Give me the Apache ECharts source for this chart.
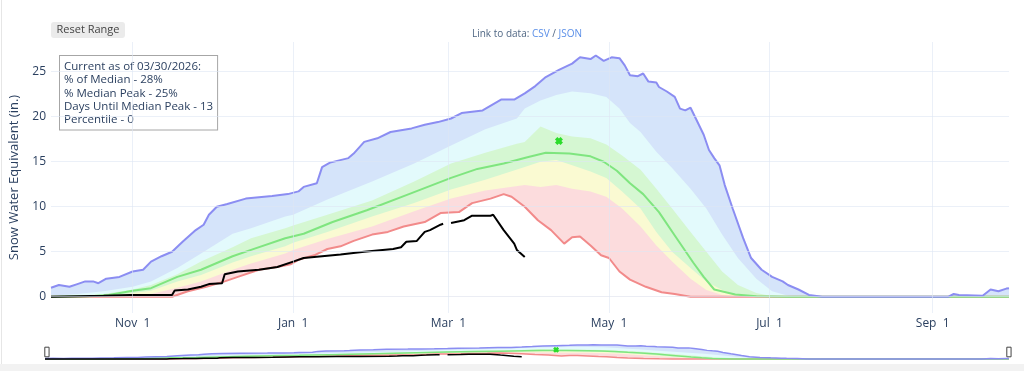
<!DOCTYPE html>
<html><head><meta charset="utf-8">
<script src="https://cdn.jsdelivr.net/npm/echarts@6/dist/echarts.min.js"></script>
<style>
html,body{margin:0;padding:0;background:#f2f2f2;}
#chart{position:absolute;left:0;top:0;width:1024px;height:364px;background:#fff;}
#edge{position:absolute;left:1px;top:0;width:1px;height:364px;background:#e6e6e6;pointer-events:none;}
</style></head><body>
<div id="chart"></div><div id="edge"></div>
<script>
// x = days since Oct 1 (water year 2026)
const tickDays = [31, 92, 151, 212, 273, 335];
const tickLabels = ['Nov  1', 'Jan  1', 'Mar  1', 'May  1', 'Jul  1', 'Sep  1'];

const maxSWE = [[0,1.0],[3,1.3],[7,1.1],[10,1.4],[13,1.7],[16,1.7],[18,1.5],[21,2.0],[26,2.2],[31,2.8],[35,3.0],[38,3.9],[42,4.5],[46,5.0],[50,6.1],[55,7.4],[58,8.0],[60,9.1],[63,10.0],[67,10.3],[74,10.9],[84,11.2],[90,11.4],[94,11.7],[96,12.2],[101,12.6],[103,14.4],[106,14.9],[113,15.4],[115,15.9],[119,17.2],[124,17.6],[129,18.3],[137,18.7],[142,19.1],[147,19.4],[152,19.8],[156,20.4],[164,20.7],[171,21.9],[176,21.9],[180,22.6],[184,23.4],[188,24.4],[193,25.2],[198,25.9],[201,26.6],[205,26.4],[207,26.8],[210,26.2],[213,26.6],[216,26.5],[218,25.7],[220,24.6],[223,24.5],[225,24.8],[227,23.9],[230,23.8],[231,23.3],[234,22.8],[237,22.2],[239,20.9],[241,20.7],[243,21.0],[245,19.8],[248,18.0],[250,16.3],[252,15.4],[254,14.6],[256,12.4],[259,9.8],[263,6.5],[266,4.3],[270,3.0],[274,2.2],[278,1.7],[280,1.3],[284,0.8],[288,0.2],[293,0],[341,0],[343,0.3],[345,0.2],[354,0.1],[357,0.8],[360,0.6],[363,0.9],[364,0.95]];
const p90SWE = [[0,0.1],[10,0.3],[20,0.6],[31,1.1],[38,1.7],[48,3.2],[57,4.8],[69,7.0],[76,7.6],[89,8.9],[92,9.1],[105,10.8],[122,12.8],[138,14.8],[152,16.8],[165,18.6],[177,19.8],[180,20.9],[186,21.8],[192,22.4],[198,22.8],[205,22.6],[211,22.2],[216,20.9],[220,19.3],[224,18.3],[230,16.1],[236,14.3],[243,12.0],[249,9.8],[255,6.9],[261,4.3],[268,2.0],[274,0.6],[280,0.1],[290,0],[364,0]];
const p70SWE = [[0,0],[10,0.1],[20,0.3],[31,0.8],[38,1.3],[48,2.5],[57,3.9],[69,5.5],[76,6.5],[89,7.6],[92,7.9],[105,9.1],[122,10.7],[138,12.8],[152,14.8],[165,16.0],[177,17.0],[180,17.2],[186,18.9],[192,18.2],[198,17.8],[205,17.6],[211,16.9],[217,15.7],[224,14.1],[230,12.0],[236,9.8],[243,7.2],[249,5.0],[255,2.8],[261,1.3],[268,0.4],[274,0.05],[290,0],[364,0]];
const medianSWE = [[0,0],[15,0.05],[22,0.2],[31,0.65],[38,0.95],[48,2.2],[57,3.0],[69,4.5],[76,5.2],[89,6.5],[96,7.0],[107,8.3],[120,9.6],[136,11.4],[152,13.2],[162,14.2],[172,14.8],[181,15.5],[188,16.0],[197,15.9],[205,15.6],[210,15.0],[215,14.0],[220,12.6],[225,11.4],[231,9.4],[237,6.8],[244,3.8],[248,2.2],[252,0.8],[260,0.25],[268,0.05],[280,0],[364,0]];
const p30SWE = [[0,0],[22,0.05],[31,0.4],[38,0.67],[48,1.7],[57,2.4],[69,3.8],[76,4.5],[89,5.6],[92,6.0],[105,7.2],[122,8.9],[138,10.4],[152,11.9],[165,13.0],[180,14.4],[186,15.0],[192,15.2],[198,14.6],[205,13.9],[211,13.2],[217,11.7],[224,9.8],[230,7.2],[236,5.0],[243,3.2],[249,1.7],[255,0.74],[261,0.2],[268,0],[364,0]];
const p10SWE = [[0,0],[25,0],[31,0.15],[38,0.3],[48,1.0],[57,1.7],[69,3.0],[76,3.7],[89,4.8],[92,5.2],[105,6.4],[122,7.8],[138,9.5],[152,10.9],[165,11.8],[180,12.4],[186,12.2],[192,12.4],[198,12.0],[205,11.7],[211,11.1],[217,9.8],[224,7.8],[230,5.7],[236,3.9],[243,2.0],[249,0.74],[255,0.2],[261,0],[364,0]];
const minSWE = [[0,0],[46,0],[52,0.6],[59,1.1],[66,1.7],[71,2.2],[79,3.0],[86,3.3],[91,3.6],[94,4.1],[100,4.6],[105,5.3],[110,5.6],[115,6.2],[122,6.9],[128,7.2],[134,7.8],[142,8.3],[148,9.3],[155,9.4],[160,10.4],[167,10.9],[172,11.4],[175,11.1],[180,10.0],[185,8.5],[190,7.4],[195,5.9],[198,6.6],[201,6.7],[205,5.7],[209,4.6],[212,4.3],[216,2.8],[220,1.9],[226,1.1],[232,0.5],[237,0.3],[243,0],[364,0]];
const currentSWE = [[0,0],[20,0.1],[30,0.2],[46,0.2],[47,0.7],[52,0.8],[57,1.1],[60,1.4],[65,1.5],[66,2.5],[71,2.8],[79,3.0],[86,3.3],[92,3.9],[96,4.3],[103,4.5],[110,4.7],[119,5.0],[130,5.3],[133,5.5],[135,6.1],[139,6.2],[142,7.2],[144,7.4],[148,8.0],[149,8.1],[150,null],[152,8.2],[157,8.5],[160,9.0],[167,9.0],[168,9.1],[172,7.4],[176,5.9],[177,5.2],[180,4.4]];
const medianPeak = [[193,17.3]];

const infoLines = ['Current as of 03/30/2026:', '% of Median - 28%', '% Median Peak - 25%', 'Days Until Median Peak - 13', 'Percentile - 0'];

const FONT = 'Open Sans';
const AXIS_TXT = '#2a3f5f';
const GRID = 'rgba(222,230,244,0.6)';
const XMARK = 'path://M0,3L3,0L5,2L7,0L10,3L8,5L10,7L7,10L5,8L3,10L0,7L2,5Z';

function band(data, color, gi) {
  return {type:'line', data:data, xAxisIndex:gi, yAxisIndex:gi, symbol:'none', showSymbol:false,
    lineStyle:{width:0, opacity:0}, areaStyle:{color:color, opacity:1}, silent:true, z:2};
}
function line(data, color, w, gi) {
  return {type:'line', data:data, xAxisIndex:gi, yAxisIndex:gi, symbol:'none', showSymbol:false,
    connectNulls:false, lineStyle:{width:w, color:color}, silent:true, z:2};
}
function seriesFor(gi, lw) {
  return [
    band(maxSWE, '#d5e4fa', gi),
    band(p90SWE, '#e3fafc', gi),
    band(p70SWE, '#d5f7d2', gi),
    band(p30SWE, '#fafad2', gi),
    band(p10SWE, '#fcdcdd', gi),
    band(minSWE, '#ffffff', gi),
    line(minSWE, '#f28a8a', lw, gi),
    line(medianSWE, '#7fe57f', lw, gi),
    line(maxSWE, '#8b8df2', lw, gi),
    line(currentSWE, '#000000', lw, gi),
    {type:'scatter', coordinateSystem:'cartesian2d', data:medianPeak, xAxisIndex:gi, yAxisIndex:gi,
      symbol:XMARK, symbolSize: gi === 0 ? 8 : 6, z:6, clip:false,
      itemStyle:{color:'#2bdc2b', opacity:1}}
  ];
}

const chart = echarts.init(document.getElementById('chart'));
chart.setOption({
  animation:false,
  grid:[{left:45, right:15, top:42, height:271}, {left:45, right:15, top:344, height:16}],
  xAxis:[
    {type:'value', gridIndex:0, min:0, max:364, z:3,
      axisLine:{show:false}, axisTick:{show:false, customValues:tickDays},
      axisLabel:{customValues:tickDays, margin:5, color:AXIS_TXT, fontSize:12, fontFamily:FONT,
        formatter:function(v){ const i = tickDays.indexOf(Math.round(v)); return i >= 0 ? tickLabels[i] : ''; }},
      splitLine:{show:true, lineStyle:{color:GRID, width:1}}},
    {type:'value', gridIndex:1, min:0, max:364, show:false}
  ],
  yAxis:[
    {type:'value', gridIndex:0, min:-1.81, max:28.3, z:3,
      name:'Snow Water Equivalent (in.)', nameLocation:'middle', nameGap:30,
      nameTextStyle:{color:AXIS_TXT, fontSize:13, fontFamily:FONT},
      axisLine:{show:false}, axisTick:{show:false},
      axisLabel:{showMinLabel:false, showMaxLabel:false, margin:5, color:AXIS_TXT, fontSize:12, fontFamily:FONT},
      splitLine:{show:true, showMinLine:false, showMaxLine:false, lineStyle:{color:GRID, width:1}}},
    {type:'value', gridIndex:1, min:-1.81, max:28.3, show:false}
  ],
  dataZoom:[{type:'slider', xAxisIndex:[0], filterMode:'none', start:0, end:100,
    left:45, right:15, top:344, height:16, showDataShadow:false, showDetail:false, brushSelect:false,
    backgroundColor:'rgba(0,0,0,0)', borderColor:'rgba(0,0,0,0)', fillerColor:'rgba(0,0,0,0)',
    dataBackground:{lineStyle:{opacity:0}, areaStyle:{opacity:0}},
    selectedDataBackground:{lineStyle:{opacity:0}, areaStyle:{opacity:0}},
    handleIcon:'path://M0,0L4,0L4,9L0,9Z', handleSize:'60%',
    handleStyle:{color:'#ffffff', borderColor:'#444', borderWidth:1},
    moveHandleSize:0, moveHandleStyle:{opacity:0}}],
  series: seriesFor(0, 2).concat(seriesFor(1, 1.5)),
  graphic:[
    {type:'rect', shape:{x:51, y:22, width:74, height:16, r:3}, style:{fill:'#ebebeb'}, silent:true},
    {type:'text', x:88, y:30, silent:true, style:{text:'Reset Range', font:'11px "Open Sans"', fill:'#444', align:'center', verticalAlign:'middle'}},
    {type:'text', x:527, y:34.5, silent:true, style:{text:'{a|Link to data: }{b|CSV}{a| / }{b|JSON}', align:'center', verticalAlign:'middle',
      rich:{a:{fill:'#506784', color:'#506784', fontSize:10, fontFamily:FONT}, b:{fill:'#5b8fe8', color:'#5b8fe8', fontSize:10, fontFamily:FONT}}}},
    {type:'text', x:60, y:56, silent:true, style:{text:infoLines.join('\n'), font:'11.5px "Open Sans"', lineHeight:13.3,
      fill:AXIS_TXT, backgroundColor:'#ffffff', borderColor:'#a6a6a6', borderWidth:1, padding:[4,4,3,4], align:'left', verticalAlign:'top'}}
  ]
});
</script>
</body></html>
